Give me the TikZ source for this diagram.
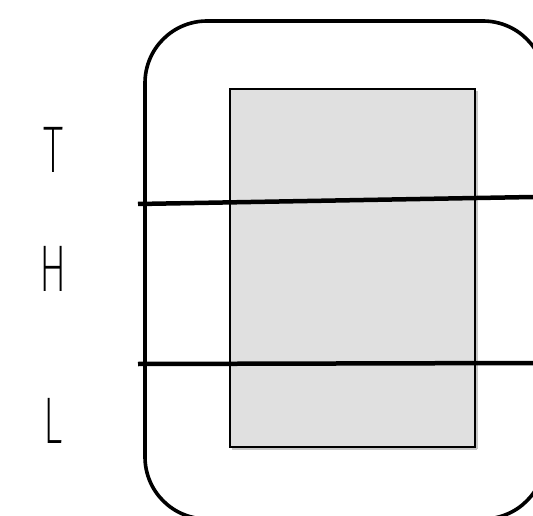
\documentclass[tikz,border=0pt]{standalone}
\usepackage{fontspec}
\setmainfont{Fira Sans ExtraLight}
\begin{document}
\begin{tikzpicture}[x=1pt,y=-1pt,
  lbl/.style={font=\fontsize{66}{66}\selectfont, inner sep=0pt, anchor=base, xscale=0.62, transform shape},
  outer/.style={draw=black, line width=3.6pt, rounded corners=62pt},
  inner/.style={draw=black, line width=1.4pt, fill=black!12},
  band/.style={draw=black, line width=4.5pt},
  shadow/.style={draw=black!22, line width=2pt}]
\useasboundingbox (0,0) rectangle (533,516);
\clip (0,0) rectangle (533,516);
\fill[white] (0,0) rectangle (533,516);
% shadow hints
\draw[shadow] (232,449) -- (477,449);
\draw[shadow] (477,91) -- (477,449);
\node[outer, minimum width=400pt, minimum height=498pt, inner sep=0pt] (frame) at (345,270) {};
\node[inner, minimum width=245pt, minimum height=358pt, inner sep=0pt] (core) at (352.5,268) {};
\coordinate (a1) at (138,204);
\coordinate (a2) at (533,197);
\coordinate (b1) at (138,364);
\coordinate (b2) at (533,363);
\draw[band] (a1) -- (a2);
\draw[band] (b1) -- (b2);
\node[lbl] (T) at (53,173) {T};
\node[lbl] (H) at (53,291) {H};
\node[lbl] (L) at (53,443) {L};
\end{tikzpicture}
\end{document}
